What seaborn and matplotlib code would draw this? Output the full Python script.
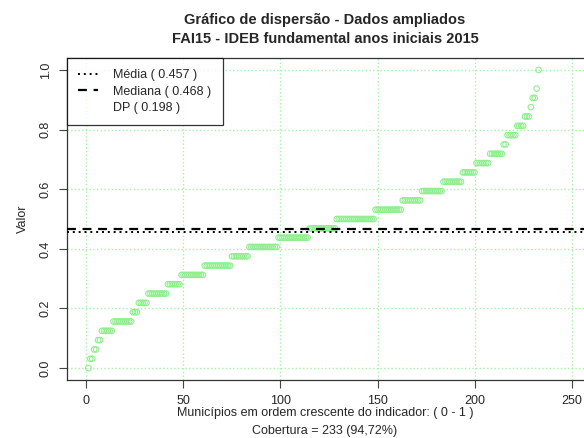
import matplotlib
matplotlib.use("Agg")
import matplotlib.pyplot as plt
import seaborn as sns
import numpy as np
import pandas as pd

# values: each level (step of 1/32) and how many municipalities sit on it
levels = [0.0, 0.03125, 0.0625, 0.09375, 0.125, 0.15625, 0.1875, 0.21875,
          0.25, 0.28125, 0.3125, 0.34375, 0.375, 0.40625, 0.4375, 0.46875,
          0.5, 0.53125, 0.5625, 0.59375, 0.625, 0.65625, 0.6875, 0.71875,
          0.75, 0.78125, 0.8125, 0.84375, 0.875, 0.90625, 0.9375, 1.0]
counts = [1, 2, 2, 2, 6, 10, 3, 5,
          10, 7, 12, 14, 9, 15, 16, 14,
          20, 14, 10, 11, 10, 7, 7, 7,
          2, 5, 4, 3, 1, 2, 1, 1]

media = 0.457
mediana = 0.468
dp = 0.198
cobertura = "Cobertura = 233 (94,72%)"

xticks = [0, 50, 100, 150, 200, 250]
yticks = [0.0, 0.2, 0.4, 0.6, 0.8, 1.0]

vals = np.repeat(levels, counts)
df = pd.DataFrame({"mun": np.arange(1, len(vals) + 1), "valor": vals})

sns.set_style("white")
plt.rcParams["font.family"] = ["Liberation Sans", "DejaVu Sans"]

fig = plt.figure(figsize=(5.84, 4.38), dpi=100)
ax = fig.add_axes([67 / 584, 58 / 438, 524 / 584, 322 / 438])

for t in xticks:
    ax.axvline(t, color="#A8F0A8", ls=":", lw=1, zorder=0)
for t in yticks:
    ax.axhline(t, color="#A8F0A8", ls=":", lw=1, zorder=0)

sns.scatterplot(data=df, x="mun", y="valor", ax=ax, marker="o", s=16,
                facecolor="none", edgecolor="#90EE90", linewidth=0.8, zorder=2)

l1 = ax.axhline(media, color="black", ls=(0, (1, 2)), lw=1.4, zorder=3)
l2 = ax.axhline(mediana, color="black", ls=(0, (4, 3)), lw=1.6, zorder=3)
l3, = ax.plot([], [], color="none")

ax.set_xlim(-10, 260)
ax.set_ylim(-0.04, 1.04)
ax.set_xticks(xticks)
ax.set_yticks(yticks)
ax.set_xticklabels([str(t) for t in xticks], fontsize=9)
ax.set_yticklabels([f"{t:.1f}" for t in yticks], fontsize=9, rotation=90, va="center")
ax.tick_params(direction="out", length=6, width=0.8, color="#444444", pad=5, bottom=True, left=True)
for s in ax.spines.values():
    s.set_color("#333333")
    s.set_linewidth(0.9)
ax.set_xlabel("")
ax.set_ylabel("Valor", fontsize=9, labelpad=8)

leg = ax.legend([l1, l2, l3],
                [f"Média ( {media:.3f} )", f"Mediana ( {mediana:.3f} )", f"DP ( {dp:.3f} )"],
                loc="upper left", bbox_to_anchor=(0, 1), fontsize=9, frameon=True,
                fancybox=False, borderaxespad=0, handlelength=1.6, handletextpad=1.2,
                borderpad=0.9, labelspacing=0.35)
leg.get_frame().set_edgecolor("black")
leg.get_frame().set_linewidth(0.9)

fig.text(325 / 584, 1 - 20 / 438, "Gráfico de dispersão - Dados ampliados",
         ha="center", va="center", fontsize=10.5, fontweight="bold")
fig.text(325 / 584, 1 - 39 / 438, "FAI15 - IDEB fundamental anos iniciais 2015",
         ha="center", va="center", fontsize=10.5, fontweight="bold")
fig.text(325 / 584, 1 - 413 / 438, "Municípios em ordem crescente do indicador: ( 0 - 1 )",
         ha="center", va="center", fontsize=9)
fig.text(325 / 584, 1 - 431 / 438, cobertura, ha="center", va="center", fontsize=9)

fig.savefig("out.png", dpi=100)
plt.close()
